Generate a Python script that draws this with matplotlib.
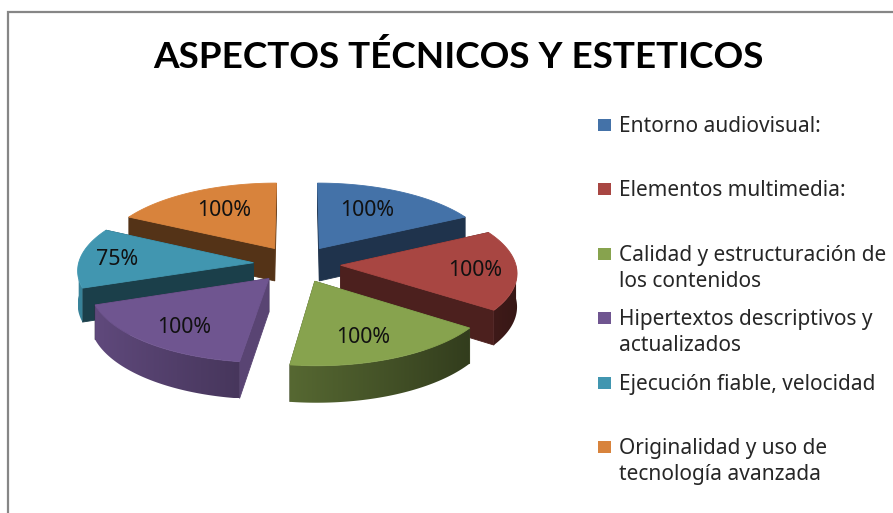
import numpy as np
import matplotlib
matplotlib.use("Agg")
import matplotlib.pyplot as plt
from matplotlib.colors import to_rgb
from matplotlib.patches import Polygon, Rectangle

TITLE = "ASPECTOS TÉCNICOS Y ESTETICOS"
categories = ["Entorno audiovisual:", "Elementos multimedia:",
              "Calidad y estructuración de\nlos contenidos",
              "Hipertextos descriptivos y\nactualizados",
              "Ejecución fiable, velocidad",
              "Originalidad y uso de\ntecnología avanzada"]
values = [100, 100, 100, 100, 75, 100]
colors = ["#4472A8", "#A84642", "#87A34E", "#6F5590", "#4196B0", "#D8833C"]

# styling of the pseudo-3D pie
label_r = [0.655, 0.764, 0.724, 0.737, 0.788, 0.664]
label_frac = [0.435, 0.5, 0.556, 0.466, 0.5, 0.545]
start_shade = [0.45, 0.42, 0.45, 0.80, 0.42, 0.39]
CX, CY, A, B, P, DEPTH, EXPLODE = 297, 264, 175, 73.8, 0.088, 33, 0.25
BODY_FONT = "Noto Sans"


def project(u, v, depth=0.0):
    den = 1 + P * v
    return CX + A * u / den, CY - B * v / den + depth / den


def shade(col, f):
    return tuple(min(1, c * f) for c in to_rgb(col))


fig = plt.figure(figsize=(8.93, 5.13), dpi=100, facecolor="white")
ax = fig.add_axes([0, 0, 1, 1])

ax.plot([8, 8, 893], [513, 12, 12], color="#868686", lw=1.6, solid_joinstyle="miter")
ax.text(458, 68, TITLE, family="Lato", weight="bold", fontsize=26.6,
        color="black", ha="center", va="baseline")

vals = np.array(values, float)
edges = np.concatenate([[0], np.cumsum(vals)]) / vals.sum() * 2 * np.pi
mids = (edges[:-1] + edges[1:]) / 2


def face(pts, col, z, lw=0.6):
    return ax.add_patch(Polygon(pts, closed=True, facecolor=col, edgecolor=col, lw=lw, zorder=z))


order = sorted(range(len(vals)), key=lambda i: -np.cos(mids[i]))
for z, i in enumerate(order):
    base = 10 + z * 10
    col = colors[i]
    u0, v0 = EXPLODE * np.sin(mids[i]), EXPLODE * np.cos(mids[i])
    th = np.linspace(edges[i], edges[i + 1], 121)
    us, vs = u0 + np.sin(th), v0 + np.cos(th)

    walls = sorted(((edges[i], start_shade[i]), (edges[i + 1], 0.45)),
                   key=lambda w: -np.cos(w[0]))
    for off, (t, f) in enumerate(walls):
        ue, ve = u0 + np.sin(t), v0 + np.cos(t)
        face([project(u0, v0), project(ue, ve), project(ue, ve, DEPTH), project(u0, v0, DEPTH)],
             shade(col, f), base + off)

    front = np.cos(th) < 0
    if front.any():
        tf, uf, vf = th[front], us[front], vs[front]
        upper = [project(a, b) for a, b in zip(uf, vf)]
        lower = [project(a, b, DEPTH) for a, b in zip(uf, vf)]
        outline = upper + lower[::-1]
        shades = 0.6 - 0.28 * np.sin(tf)
        sx = np.array([p[0] for p in lower])
        idx = np.argsort(sx)
        x0, x1 = sx.min(), sx.max()
        y0 = min(p[1] for p in outline)
        y1 = max(p[1] for p in outline)
        grid = np.linspace(x0, x1, 256)
        fgrid = np.interp(grid, sx[idx], shades[idx])
        rgb = np.array(to_rgb(col))[None, None, :] * fgrid[None, :, None]
        poly = face(outline, "none", base + 2, lw=0)
        im = ax.imshow(np.clip(rgb, 0, 1), extent=(x0, x1, y1, y0), aspect="auto",
                       interpolation="bilinear", zorder=base + 2)
        im.set_clip_path(poly)

    top = [project(u0, v0)] + [project(a, b) for a, b in zip(us, vs)]
    face(top, col, base + 3)

    t = edges[i] + label_frac[i] * (edges[i + 1] - edges[i])
    lx, ly = project(u0 + label_r[i] * np.sin(t), v0 + label_r[i] * np.cos(t))
    ax.text(lx, ly + 1, f"{values[i]}%", family=BODY_FONT, fontsize=15.4, color="#111111",
            ha="center", va="center", zorder=200)

for i, (name, col) in enumerate(zip(categories, colors)):
    y = 125 + 64.4 * i
    ax.add_patch(Rectangle((598, y - 6), 13, 12, facecolor=col, edgecolor="none", zorder=200))
    for j, line in enumerate(name.split("\n")):
        ax.text(619, y + 7 + j * 26, line, family=BODY_FONT, fontsize=15, color="#262626",
                ha="left", va="baseline", zorder=200)

ax.set_xlim(0, 893)
ax.set_ylim(513, 0)
ax.axis("off")
fig.savefig("out.png", dpi=100, facecolor="white")
